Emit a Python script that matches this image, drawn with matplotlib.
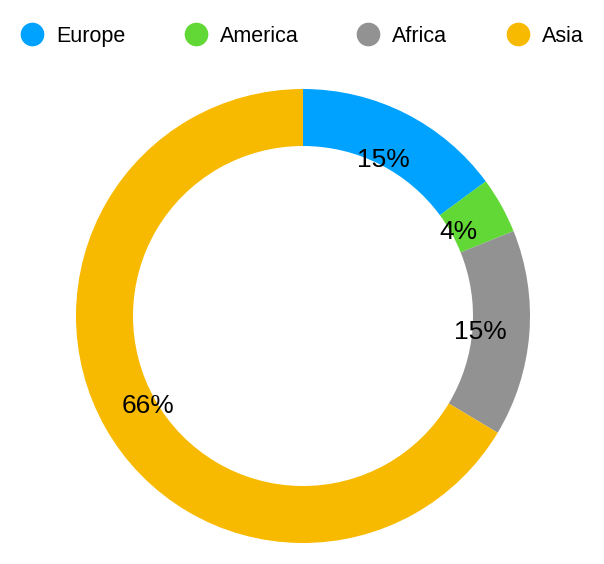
import matplotlib
matplotlib.use("Agg")
import matplotlib.pyplot as plt

categories = ["Europe", "America", "Africa", "Asia"]
values = [14.9, 4.0, 14.7, 66.4]
colors = ["#00A2FF", "#61D836", "#929292", "#F8BA00"]

plt.rcParams['font.family'] = ['Liberation Sans', 'DejaVu Sans']

W, H = 604, 564
fig = plt.figure(figsize=(W / 100, H / 100), dpi=100)
ax = fig.add_axes([0, 0, 1, 1])

cx, cy, R, ring = 303, 316, 227, 57
wedges, texts, autotexts = ax.pie(
    values, colors=colors, startangle=-90, counterclock=True,
    radius=R, center=(cx, cy), frame=True,
    wedgeprops=dict(width=ring, linewidth=0),
    autopct='%.0f%%', pctdistance=178 / R,
    textprops=dict(fontsize=19, color='black'))
for t in autotexts:
    t.set_va('center_baseline')
ax.set_xlim(0, W)
ax.set_ylim(H, 0)
ax.set_aspect('equal')
ax.axis('off')

# legend
leg_x = [32, 196, 368, 518]
for x, name, c in zip(leg_x, categories, colors):
    ax.scatter([x], [34], s=290, color=c, linewidths=0)
    ax.text(x + 24, 34, name, fontsize=15.5, va='center_baseline', ha='left', color='black')

fig.savefig("out.png", dpi=100)
